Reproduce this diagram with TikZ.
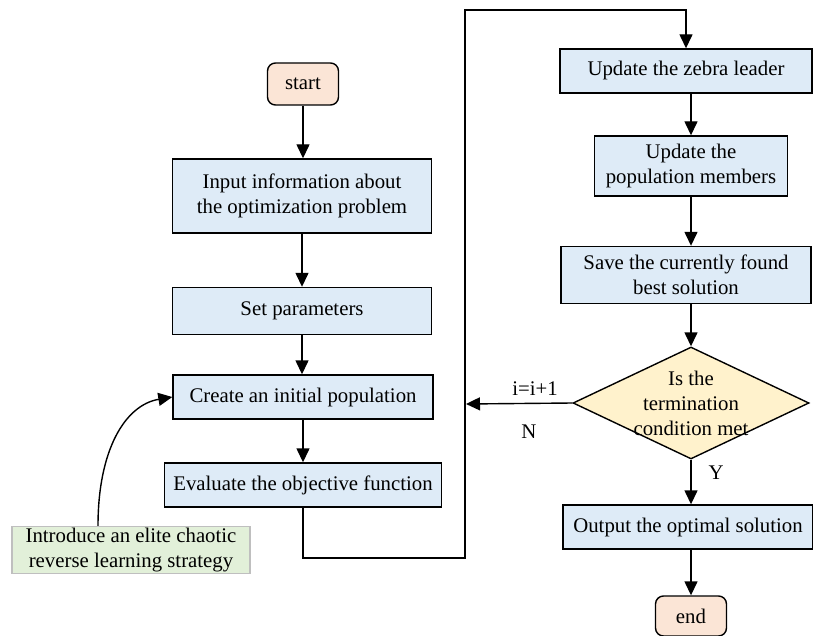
\documentclass[tikz,border=0pt]{standalone}
\usepackage{fontspec}
\setmainfont{Liberation Serif}
\usetikzlibrary{arrows.meta,shapes.geometric,positioning,calc}
\definecolor{boxblue}{HTML}{DEEBF7}
\definecolor{boxpeach}{HTML}{FBE5D6}
\definecolor{boxgreen}{HTML}{E2F0D9}
\definecolor{boxyellow}{HTML}{FFF2CC}

\begin{document}
\begin{tikzpicture}[x=0.5pt,y=0.5pt,
  font=\fontsize{10.4}{12.5}\selectfont,
  line width=0.7pt,
  proc/.style={draw,fill=boxblue,align=center,inner sep=0pt},
  term/.style={draw,fill=boxpeach,rounded corners=4pt,inner sep=0pt,
    minimum width=35.5pt,minimum height=21pt},
  ecrl/.style={draw=black!25,fill=boxgreen,align=center,inner sep=0pt,
    minimum width=119pt,minimum height=23.5pt},
  test/.style={draw,fill=boxyellow,diamond,inner sep=0pt,
    minimum width=118pt,minimum height=56pt},
  flow/.style={-{Triangle[length=7pt,width=6.5pt]}}]
\useasboundingbox (0,0) rectangle (813,-636);

% left column
\node[term] (start) at (303,-84) {start};
\node[proc,minimum width=129.5pt,minimum height=37pt] (input) at (302,-196)
  {Input information about\\the optimization problem};
\node[proc,minimum width=129.5pt,minimum height=23.5pt] (param) at (302,-311)
  {Set parameters};
\node[proc,minimum width=130pt,minimum height=22pt] (create) at (303,-397)
  {Create an initial population};
\node[proc,minimum width=138.5pt,minimum height=22pt] (eval) at (303,-485)
  {Evaluate the objective function};
\node[ecrl] (intro) at (131,-550)
  {Introduce an elite chaotic\\reverse learning strategy};

% right column
\node[proc,minimum width=126pt,minimum height=22pt] (leader) at (686,-71)
  {Update the zebra leader};
\node[proc,minimum width=96.5pt,minimum height=30pt] (member) at (691,-166)
  {Update the\\population members};
\node[proc,minimum width=125pt,minimum height=28.5pt] (save) at (686,-275)
  {Save the currently found\\best solution};
\node[test,label={[align=center]center:Is the\\termination\\condition met}]
  (cond) at (691,-403) {};
\node[proc,minimum width=125pt,minimum height=22pt] (out) at (688,-527)
  {Output the optimal solution};
\node[term,minimum height=20pt] (end) at (691,-616) {end};

% loop corners
\coordinate (c1) at (465,-558);
\coordinate (c2) at (465,-10);
\coordinate (c3) at (466,-404);

\draw[flow] (start.south) -- (start.south |- input.north);
\draw[flow] (input.south) -- (input.south |- param.north);
\draw[flow] (param.south) -- (param.south |- create.north);
\draw[flow] (create.south) -- (create.south |- eval.north);
\draw[flow] ([xshift=-16.5pt]intro.north) .. controls (98,-450) and (125,-405) .. (create.west);
\draw[flow] (eval.south) |- (c1) -- (c2) -| (leader.north);
\draw[flow] (leader.south -| member) -- (member.north);
\draw[flow] (member.south) -- (member |- save.north);
\draw[flow] (member |- save.south) -- (cond.north);
\draw[flow] (cond.west) -- (c3);
\draw[flow] (cond.south) -- (cond |- out.north);
\draw[flow] (cond |- out.south) -- (end.north);

\node (inc) at (535,-389) {i=i+1};
\node (no) at (529,-432) {N};
\node (yes) at (716,-473) {Y};
\end{tikzpicture}
\end{document}
